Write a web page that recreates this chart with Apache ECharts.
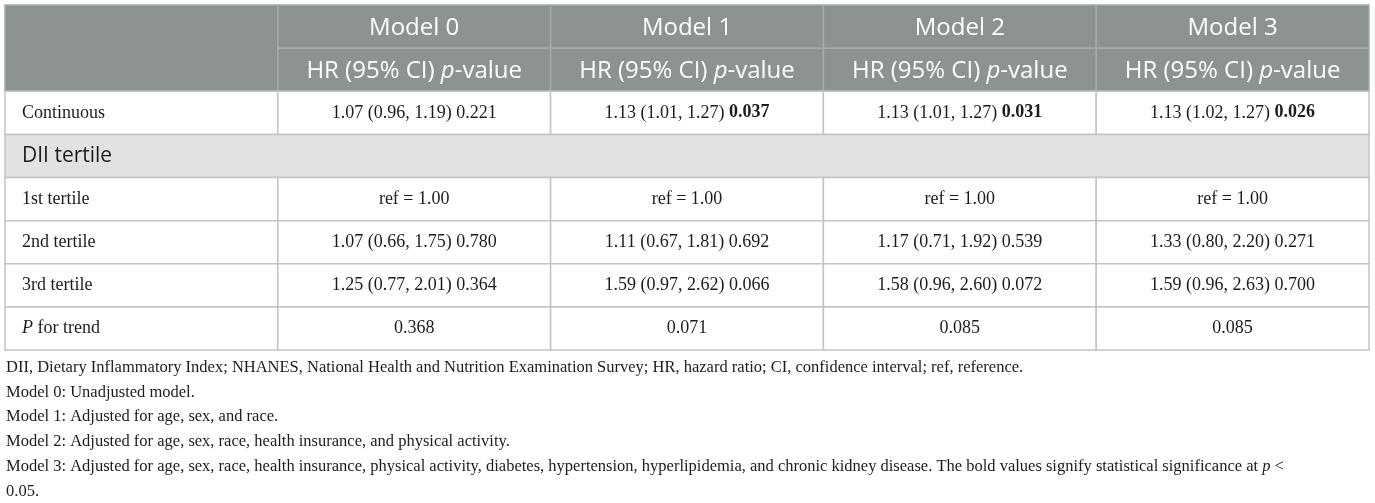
<!DOCTYPE html>
<html>
<head>
<meta charset="utf-8">
<script src="https://cdn.jsdelivr.net/npm/echarts@6/dist/echarts.min.js"></script>
<style>
html,body{margin:0;padding:0;background:#fff;}
#chart{width:1375px;height:503px;}
</style>
</head>
<body>
<div id="chart"></div>
<script>
// ---- data ----
const models = ['Model 0', 'Model 1', 'Model 2', 'Model 3'];
const subHeader = ['HR (95% CI) ', 'p', '-value'];
const rowLabels = ['Continuous', 'DII tertile', '1st tertile', '2nd tertile', '3rd tertile', 'P for trend'];
const contHR = ['1.07 (0.96, 1.19)', '1.13 (1.01, 1.27)', '1.13 (1.01, 1.27)', '1.13 (1.02, 1.27)'];
const contP = ['0.221', '0.037', '0.031', '0.026'];
const tert1 = ['ref = 1.00', 'ref = 1.00', 'ref = 1.00', 'ref = 1.00'];
const tert2HR = ['1.07 (0.66, 1.75)', '1.11 (0.67, 1.81)', '1.17 (0.71, 1.92)', '1.33 (0.80, 2.20)'];
const tert2P = ['0.780', '0.692', '0.539', '0.271'];
const tert3HR = ['1.25 (0.77, 2.01)', '1.59 (0.97, 2.62)', '1.58 (0.96, 2.60)', '1.59 (0.96, 2.63)'];
const tert3P = ['0.364', '0.066', '0.072', '0.700'];
const pTrend = ['0.368', '0.071', '0.085', '0.085'];
const footnotes = [
  'DII, Dietary Inflammatory Index; NHANES, National Health and Nutrition Examination Survey; HR, hazard ratio; CI, confidence interval; ref, reference.',
  'Model 0: Unadjusted model.',
  'Model 1: Adjusted for age, sex, and race.',
  'Model 2: Adjusted for age, sex, race, health insurance, and physical activity.',
  'Model 3: Adjusted for age, sex, race, health insurance, physical activity, diabetes, hypertension, hyperlipidemia, and chronic kidney disease. The bold values signify statistical significance at {i|p} <',
  '0.05.'
];
const colCats = ['label'].concat(models);
const rowCats = ['head1', 'head2'].concat(rowLabels);

// ---- styles ----
const SANS = "'Open Sans', 'Noto Sans', sans-serif";
const SERIF = "'Liberation Serif', 'DejaVu Serif', serif";
const HEAD_BG = '#8d9293';
const SECTION_BG = '#e1e3e2';
const HEAD_LINE = '#a6aaab';
const BODY_LINE = '#c3c3c3';
const TEXT = '#1c1c1c';

// ---- build cells ----
const cells = [];
function hrp(hr, p) {
  const sig = parseFloat(p) < 0.05;
  return { rich: true, text: hr + ' ' + (sig ? '{b|' + p + '}' : p) };
}
cells.push({ col: 0, row: 0, rowSpan: 2, kind: 'head', text: '' });
models.forEach((m, i) => {
  cells.push({ col: i + 1, row: 0, kind: 'head', text: m });
  cells.push({ col: i + 1, row: 1, kind: 'head', text: subHeader[0] + '{i|' + subHeader[1] + '}' + subHeader[2], rich: true });
});
function bodyRow(r, label, vals, labelRich) {
  cells.push({ col: 0, row: r, kind: 'body', text: label, align: 'left', rich: !!labelRich });
  vals.forEach((v, i) => {
    const o = typeof v === 'string' ? { text: v } : v;
    cells.push(Object.assign({ col: i + 1, row: r, kind: 'body' }, o));
  });
}
bodyRow(2, rowLabels[0], contHR.map((h, i) => hrp(h, contP[i])));
cells.push({ col: 0, row: 3, colSpan: 5, kind: 'section', text: rowLabels[1], align: 'left' });
bodyRow(4, rowLabels[2], tert1);
bodyRow(5, rowLabels[3], tert2HR.map((h, i) => hrp(h, tert2P[i])));
bodyRow(6, rowLabels[4], tert3HR.map((h, i) => hrp(h, tert3P[i])));
bodyRow(7, '{i|P} for trend', pTrend, true);

const chart = echarts.init(document.getElementById('chart'), null, { renderer: 'canvas' });

function renderItem(params, api) {
  const cell = cells[params.dataIndex];
  const c = api.coord([api.value(0), api.value(1)]);
  const s = api.size([1, 1]);
  const x0 = c[0] - s[0] / 2;
  const y0 = c[1] - s[1] / 2;
  const w = s[0] * (cell.colSpan || 1);
  const h = s[1] * (cell.rowSpan || 1);
  const isHead = cell.kind === 'head';
  const fill = isHead ? HEAD_BG : (cell.kind === 'section' ? SECTION_BG : '#ffffff');
  const children = [{
    type: 'rect',
    shape: { x: x0, y: y0, width: w, height: h },
    style: { fill: fill, stroke: isHead ? HEAD_LINE : BODY_LINE, lineWidth: 1.5 }
  }];
  if (cell.text) {
    let family, size, color;
    if (isHead) { family = SANS; size = 24; color = '#ffffff'; }
    else if (cell.kind === 'section') { family = SANS; size = 21; color = TEXT; }
    else { family = SERIF; size = 18; color = TEXT; }
    const left = cell.align === 'left';
    children.push({
      type: 'text',
      style: {
        text: cell.text,
        x: left ? x0 + 17 : x0 + w / 2,
        y: y0 + h / 2 + (isHead ? 1.5 : 0),
        align: left ? 'left' : 'center',
        verticalAlign: 'middle',
        fontFamily: family,
        fontSize: size,
        fill: color,
        rich: {
          b: { fontFamily: family, fontSize: size, fontWeight: 'bold', fill: color },
          i: { fontFamily: family, fontSize: size, fontStyle: 'italic', fill: color }
        }
      }
    });
  }
  return { type: 'group', children: children };
}

const option = {
  animation: false,
  title: {
    text: footnotes.join('\n'),
    left: 1,
    top: 350,
    textStyle: {
      fontFamily: SERIF,
      fontSize: 16.5,
      fontWeight: 'normal',
      color: TEXT,
      lineHeight: 24.8,
      rich: {
        i: { fontFamily: SERIF, fontSize: 16.5, fontStyle: 'italic', color: TEXT, lineHeight: 24.8 }
      }
    }
  },
  grid: { left: 5, right: 6, top: 5, height: 345 },
  xAxis: {
    type: 'category', data: colCats,
    axisLine: { show: false }, axisTick: { show: false }, axisLabel: { show: false }, splitLine: { show: false }
  },
  yAxis: {
    type: 'category', data: rowCats, inverse: true,
    axisLine: { show: false }, axisTick: { show: false }, axisLabel: { show: false }, splitLine: { show: false }
  },
  series: [{
    type: 'custom',
    renderItem: renderItem,
    clip: false,
    silent: true,
    emphasis: { disabled: true },
    encode: { x: 0, y: 1 },
    data: cells.map((c, i) => [c.col, c.row, i])
  }]
};
chart.setOption(option);
</script>
</body>
</html>
